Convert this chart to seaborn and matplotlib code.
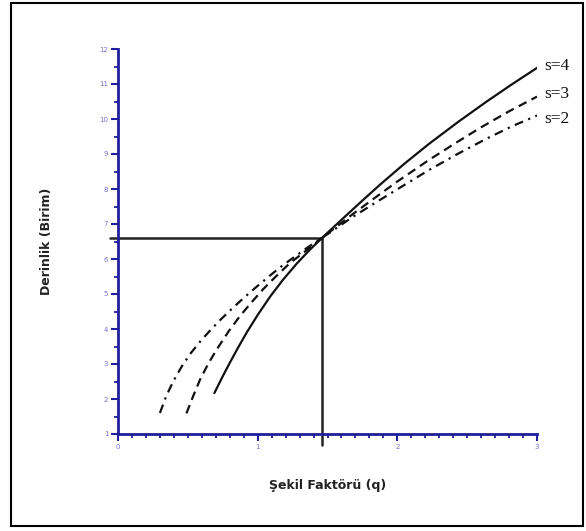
import matplotlib
matplotlib.use("Agg")
import matplotlib.pyplot as plt
from matplotlib.patches import Rectangle
import seaborn as sns
import pandas as pd

# Data
q_s4 = [0.69, 0.75, 0.80, 0.86, 0.92, 1.00, 1.09, 1.18, 1.28, 1.37, 1.46, 1.60, 1.75,
        1.875, 2.05, 2.23, 2.44, 2.64, 2.82, 3.0]
d_s4 = [2.17, 2.65, 3.03, 3.47, 3.89, 4.40, 4.93, 5.40, 5.87, 6.25, 6.6, 7.12, 7.67,
        8.12, 8.72, 9.30, 9.93, 10.5, 10.99, 11.46]
q_s3 = [0.49, 0.54, 0.587, 0.645, 0.706, 0.79, 0.873, 0.96, 1.04, 1.13, 1.23, 1.35, 1.46,
        1.68, 1.84, 1.995, 2.23, 2.42, 2.59, 2.8, 3.0]
d_s3 = [1.59, 2.10, 2.55, 3.00, 3.41, 3.92, 4.37, 4.78, 5.14, 5.50, 5.88, 6.25, 6.6,
        7.28, 7.75, 8.20, 8.84, 9.32, 9.74, 10.22, 10.64]
q_s2 = [0.30, 0.345, 0.395, 0.455, 0.515, 0.59, 0.66, 0.73, 0.80, 0.89, 0.99, 1.08, 1.16,
        1.26, 1.35, 1.46, 1.68, 1.84, 1.995, 2.23, 2.44, 2.64, 2.82, 3.0]
d_s2 = [1.6, 2.08, 2.5, 2.92, 3.28, 3.65, 3.96, 4.25, 4.52, 4.85, 5.2, 5.5, 5.76,
        6.05, 6.31, 6.6, 7.2, 7.6, 7.98, 8.55, 9.02, 9.44, 9.79, 10.1]
series_labels = ["s=4", "s=3", "s=2"]
ref_q = 1.46
ref_d = 6.6
x_ticks = [0, 1, 2, 3]
y_ticks = [1, 2, 3, 4, 5, 6, 7, 8, 9, 10, 11, 12]

sns.set_style("white")
plt.rcParams['font.family'] = ['DejaVu Sans']

fig = plt.figure(figsize=(5.86, 5.31), dpi=100)
ax = fig.add_axes([118/586, 1-434/531, (537-118)/586, (434-49)/531])

blue = "#1f1f9c"
df4 = pd.DataFrame({"q": q_s4, "d": d_s4})
df3 = pd.DataFrame({"q": q_s3, "d": d_s3})
df2 = pd.DataFrame({"q": q_s2, "d": d_s2})
sns.lineplot(data=df4, x="q", y="d", ax=ax, color="#111111", lw=1.6, sort=False, estimator=None)
sns.lineplot(data=df3, x="q", y="d", ax=ax, color="#111111", lw=1.6, sort=False, estimator=None)
ax.lines[-1].set_dashes([4, 2.5])
sns.lineplot(data=df2, x="q", y="d", ax=ax, color="#111111", lw=1.6, sort=False, estimator=None)
ax.lines[-1].set_dashes([4, 2.5, 1, 2.5])
for ln in ax.lines:
    ln.set_solid_joinstyle("round")
    ln.set_dash_joinstyle("round")

# reference lines
ax.plot([-0.06, ref_q], [ref_d, ref_d], color="#222222", lw=1.8, clip_on=False, zorder=1)
ax.plot([ref_q, ref_q], [0.7, ref_d], color="#222222", lw=1.8, clip_on=False, zorder=1)

ax.set_xlim(0, 3)
ax.set_ylim(1, 12)
ax.set_xticks(x_ticks)
ax.set_xticks([i/10 for i in range(31)], minor=True)
ax.set_yticks(y_ticks)
ax.set_yticks([1 + i/2 for i in range(23)], minor=True)
ax.tick_params(axis='both', which='both', bottom=True, left=True, direction='out')
ax.tick_params(axis='both', which='major', length=5, width=1.5, color=blue,
               labelsize=5, labelcolor="#7070d0", pad=2)
ax.tick_params(axis='both', which='minor', length=3, width=1.3, color=blue)

for s in ["top", "right"]:
    ax.spines[s].set_visible(False)
for s in ["left", "bottom"]:
    ax.spines[s].set_color(blue)
    ax.spines[s].set_linewidth(2)

ax.set_xlabel("Şekil Faktörü (q)", fontsize=9, fontweight="bold", color="#222222", labelpad=21)
ax.set_ylabel("Derinlik (Birim)", fontsize=9, fontweight="bold", color="#222222", labelpad=33)

label_y = [11.5, 10.7, 10.0]
for lab, yy in zip(series_labels, label_y):
    ax.text(3.05, yy, lab, fontsize=12.5, family=["Liberation Serif", "DejaVu Serif"],
            ha="left", va="center", color="#111111", clip_on=False)

fig.patches.append(Rectangle((11/586, 1-526/531), (583-11)/586, (526-3)/531,
                             transform=fig.transFigure, fill=False, edgecolor="black", lw=1.5))

fig.savefig("out.png", dpi=100)
